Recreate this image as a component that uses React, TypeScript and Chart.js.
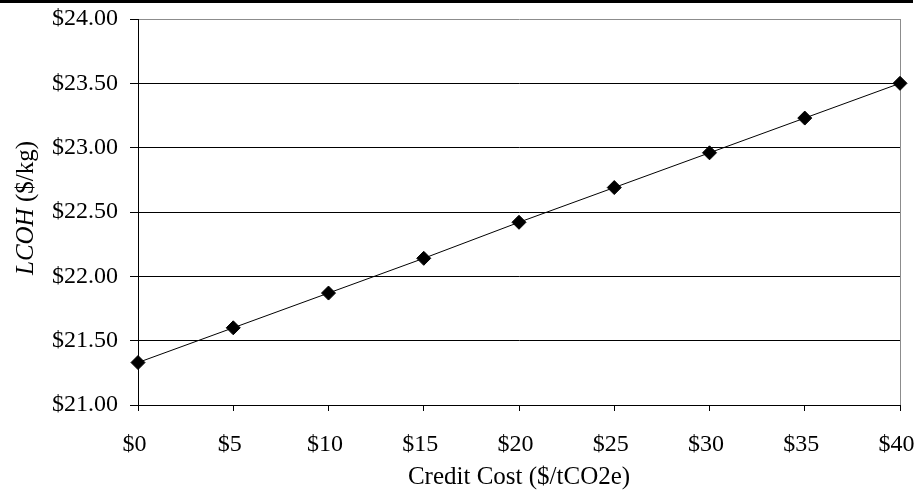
import React, { useEffect, useRef } from "react";
import { Chart, registerables } from "chart.js";

Chart.register(...registerables);

const creditCost = [0, 5, 10, 15, 20, 25, 30, 35, 40];
const lcoh = [21.33, 21.6, 21.87, 22.14, 22.42, 22.69, 22.96, 23.23, 23.5];
const xTitle = "Credit Cost ($/tCO2e)";
const yTitleItalic = "LCOH";
const yTitleRest = " ($/kg)";

const FONT = "'Liberation Serif', 'Times New Roman', serif";
const FS = 24;
const TS = 25;

const framePlugin = {
  id: "frame",
  beforeDatasetsDraw(chart: any) {
    const { ctx, chartArea } = chart;
    ctx.save();
    ctx.strokeStyle = "#8c8c8c";
    ctx.lineWidth = 1;
    ctx.beginPath();
    ctx.moveTo(Math.round(chartArea.right) + 0.5, chartArea.top);
    ctx.lineTo(Math.round(chartArea.right) + 0.5, chartArea.bottom);
    ctx.stroke();
    ctx.restore();
  },
  afterDraw(chart: any) {
    const { ctx, chartArea } = chart;
    ctx.save();
    ctx.fillStyle = "#000";
    ctx.fillRect(0, 0, 913, 3);
    ctx.translate(26, (chartArea.top + chartArea.bottom) / 2 - 4);
    ctx.rotate(-Math.PI / 2);
    ctx.textBaseline = "middle";
    ctx.font = `italic ${TS}px ${FONT}`;
    const w1 = ctx.measureText(yTitleItalic).width;
    ctx.font = `${TS}px ${FONT}`;
    const w2 = ctx.measureText(yTitleRest).width;
    const start = -(w1 + w2) / 2;
    ctx.font = `italic ${TS}px ${FONT}`;
    ctx.fillText(yTitleItalic, start, 0);
    ctx.font = `${TS}px ${FONT}`;
    ctx.fillText(yTitleRest, start + w1, 0);
    ctx.restore();
  },
};

export default function App() {
  const ref = useRef<HTMLCanvasElement>(null);
  useEffect(() => {
    if (!ref.current) return;
    const chart = new Chart(ref.current, {
      type: "line",
      data: {
        datasets: [
          {
            data: creditCost.map((x, i) => ({ x, y: lcoh[i] })),
            borderColor: "#000",
            backgroundColor: "#000",
            borderWidth: 1,
            pointStyle: "rectRot",
            pointRadius: 7,
            pointBorderWidth: 1,
            pointBorderColor: "#000",
            pointBackgroundColor: "#000",
            tension: 0,
            clip: false,
          },
        ],
      },
      options: {
        responsive: false,
        animation: false,
        devicePixelRatio: 1,
        layout: { padding: { top: 19, right: 16, bottom: 0, left: 0 } },
        plugins: {
          legend: { display: false },
          tooltip: { enabled: false },
        },
        scales: {
          x: {
            type: "linear",
            min: 0,
            max: 40,
            afterFit: (s: any) => {
              s.height = 95;
              s.paddingLeft = 0;
              s.paddingRight = 0;
            },
            ticks: {
              stepSize: 5,
              color: "#000",
              padding: 19,
              labelOffset: -3.5,
              font: { family: FONT, size: FS },
              callback: (v: any) => "$" + v,
            },
            grid: {
              drawOnChartArea: false,
              drawTicks: true,
              tickLength: 6,
              color: "#000",
              tickColor: "#000",
            },
            border: { color: "#000", width: 1 },
            title: {
              display: true,
              text: xTitle,
              color: "#000",
              font: { family: FONT, size: TS },
              padding: { top: 0, bottom: 8 },
            },
          },
          y: {
            min: 21,
            max: 24,
            afterFit: (s: any) => {
              s.width = 138;
              s.paddingTop = 0;
              s.paddingBottom = 0;
            },
            ticks: {
              stepSize: 0.5,
              color: "#000",
              padding: 12,
              font: { family: FONT, size: FS },
              callback: (v: any) => "$" + Number(v).toFixed(2),
            },
            grid: {
              drawTicks: true,
              tickLength: 8,
              color: (c: any) => (c.tick && c.tick.value === 24 ? "#8c8c8c" : "#000"),
              tickColor: "#000",
              lineWidth: 1,
            },
            border: { color: "#000", width: 1 },
          },
        },
      },
      plugins: [framePlugin],
    });
    return () => chart.destroy();
  }, []);
  return (
    <div style={{ position: "fixed", left: 0, top: 0, width: 916, height: 500, background: "#fff" }}>
      <canvas ref={ref} width={916} height={500} />
    </div>
  );
}
